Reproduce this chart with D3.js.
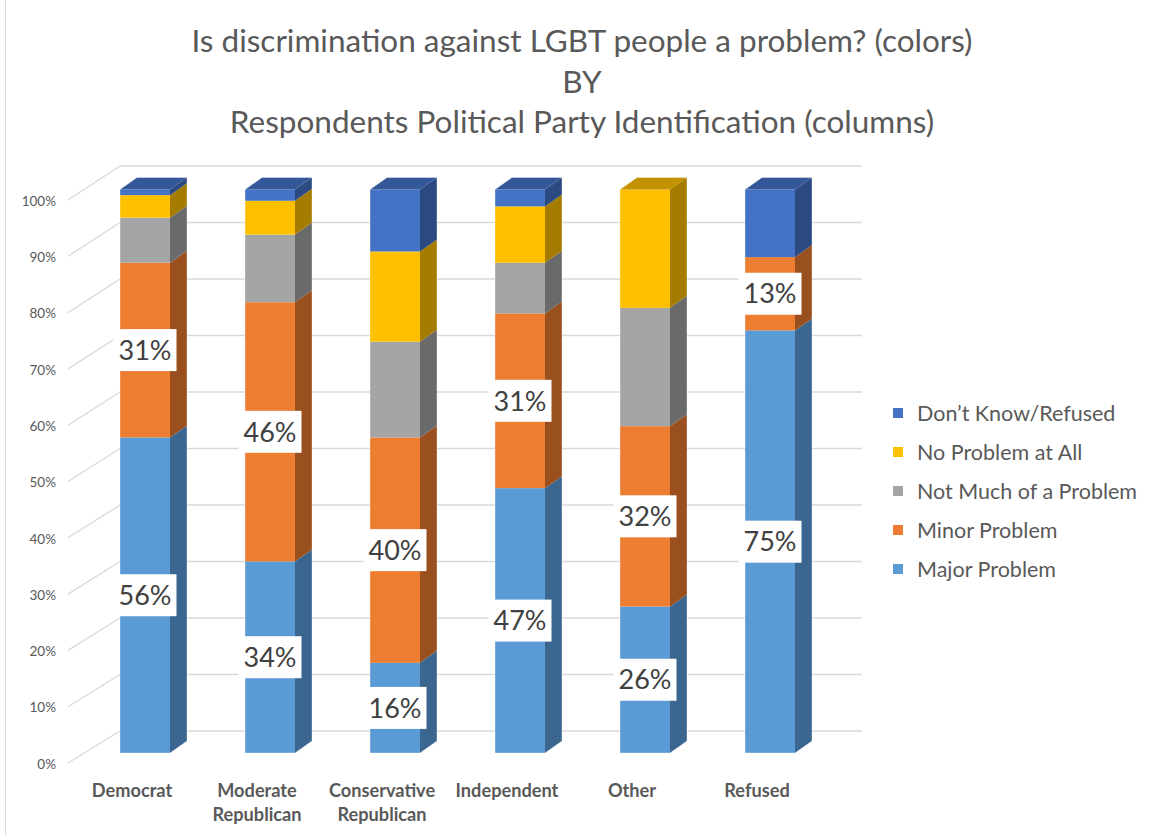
<!DOCTYPE html>
<html>
<head>
<meta charset="utf-8">
<script src="https://cdn.jsdelivr.net/npm/d3@7"></script>
<style>
  html, body { margin: 0; padding: 0; background: #fff; }
  svg { display: block; }
  text { font-family: Lato, "Open Sans", "Liberation Sans", sans-serif; }
</style>
</head>
<body>
<svg id="chart" width="1151" height="835"></svg>
<script>
// ---- data ----
const titleLines = ["Is discrimination against LGBT people a problem? (colors)", "BY", "Respondents Political Party Identification (columns)"];
const categories = ["Democrat", "Moderate Republican", "Conservative Republican", "Independent", "Other", "Refused"];
const seriesNames = ["Major Problem", "Minor Problem", "Not Much of a Problem", "No Problem at All", "Don\u2019t Know/Refused"];
const majorProblem = [56, 34, 16, 47, 26, 75];
const minorProblem = [31, 46, 40, 31, 32, 13];
const notMuchProblem = [8, 12, 17, 9, 21, 0];
const noProblemAtAll = [4, 6, 16, 10, 21, 0];
const dontKnowRefused = [1, 2, 11, 3, 0, 12];
const labeledSeries = ["Major Problem", "Minor Problem"];
const yTicks = [0, 10, 20, 30, 40, 50, 60, 70, 80, 90, 100];

// ---- styles ----
const frontColors = ["#5B9BD5", "#ED7D31", "#A5A5A5", "#FFC000", "#4472C4"];
const sideColors  = ["#3A6690", "#9A4F1E", "#6A6A6A", "#A57C00", "#2C4A82"];
const topColors   = ["#4A80B4", "#C2652A", "#888888", "#C39200", "#335799"];

const svg = d3.select("#chart");
const seriesValues = [majorProblem, minorProblem, notMuchProblem, noProblemAtAll, dontKnowRefused];
const table = categories.map((c, i) => {
  const o = { category: c };
  seriesNames.forEach((s, k) => o[s] = seriesValues[k][i]);
  return o;
});
const stacked = d3.stack().keys(seriesNames)(table);

const x = d3.scalePoint().domain(categories).range([145, 770]);
const yFront = d3.scaleLinear().domain([0, 100]).range([753, 189.5]);
const yWall = d3.scaleLinear().domain([0, 100]).range([731, 166]);
const yLabel = d3.scaleLinear().domain([0, 100]).range([764, 201]);
const barW = 50, dx = 17, dy = -12;
const wallLeft = 120, wallRight = 862, labelEdge = 68;

// title
svg.append("g").selectAll("text").data(titleLines).join("text")
  .attr("x", 582).attr("y", (d, i) => 52 + i * 40.5)
  .attr("text-anchor", "middle")
  .attr("font-size", 31.5).attr("fill", "#595959")
  .text(d => d);

// gridlines on back wall + floor diagonals
const grid = svg.append("g");
grid.selectAll("line.h").data(yTicks).join("line").attr("class", "h")
  .attr("x1", wallLeft).attr("x2", wallRight)
  .attr("y1", d => yWall(d)).attr("y2", d => yWall(d))
  .attr("stroke", "#D9D9D9").attr("stroke-width", 1.3);
grid.selectAll("line.d").data(yTicks).join("line").attr("class", "d")
  .attr("x1", labelEdge).attr("x2", wallLeft)
  .attr("y1", d => yLabel(d) - 1).attr("y2", d => yWall(d))
  .attr("stroke", "#D9D9D9").attr("stroke-width", 1.3);

// y tick labels
svg.append("g").selectAll("text").data(yTicks).join("text")
  .attr("x", 56).attr("y", d => yLabel(d))
  .attr("dy", "0.35em").attr("text-anchor", "end")
  .attr("font-size", 13.5).attr("fill", "#595959")
  .text(d => d + "%");

// bars
const bars = svg.append("g");
categories.forEach((c, i) => {
  const cx = x(c);
  const xl = cx - barW / 2, xr = cx + barW / 2;
  let topIdx = -1;
  stacked.forEach((s, k) => { if (s[i][1] - s[i][0] > 0) topIdx = k; });
  stacked.forEach((s, k) => {
    const v0 = s[i][0], v1 = s[i][1];
    if (v1 - v0 <= 0) return;
    const y0 = yFront(v0), y1 = yFront(v1);
    bars.append("rect").attr("x", xl).attr("y", y1)
      .attr("width", barW).attr("height", y0 - y1)
      .attr("fill", frontColors[k]);
    bars.append("path")
      .attr("d", `M${xr},${y0}L${xr + dx},${y0 + dy}L${xr + dx},${y1 + dy}L${xr},${y1}Z`)
      .attr("fill", sideColors[k]);
    if (k === topIdx) {
      bars.append("path")
        .attr("d", `M${xl},${y1}L${xl + dx},${y1 + dy}L${xr + dx},${y1 + dy}L${xr},${y1}Z`)
        .attr("fill", topColors[k]);
    }
  });
  bars.append("path")
    .attr("d", `M${xl},${yFront(0)}L${xl},${yFront(100)}L${xl + dx},${yFront(100) + dy}L${xr + dx},${yFront(100) + dy}L${xr + dx},${yFront(0) + dy}L${xr},${yFront(0)}Z`)
    .attr("fill", "none").attr("stroke", "rgba(255,255,255,0.35)").attr("stroke-width", 1);
});

// data labels
const labels = svg.append("g");
stacked.forEach((s, k) => {
  if (!labeledSeries.includes(s.key)) return;
  categories.forEach((c, i) => {
    const v = s[i][1] - s[i][0];
    const cy = yFront((s[i][0] + s[i][1]) / 2);
    const cx = x(c);
    const g = labels.append("g");
    g.append("rect").attr("x", cx - 31.5).attr("y", cy - 21)
      .attr("width", 63).attr("height", 42).attr("fill", "#fff");
    g.append("text").attr("x", cx).attr("y", cy).attr("dy", "0.36em")
      .attr("text-anchor", "middle").attr("font-size", 27).attr("fill", "#404040")
      .text(v + "%");
  });
});

// category labels
svg.append("g").selectAll("text").data(categories).join("text")
  .attr("x", d => x(d) - 13).attr("y", 797)
  .attr("text-anchor", "middle").attr("font-size", 18.2).attr("font-weight", "bold")
  .attr("fill", "#595959")
  .each(function(d) {
    const parts = d.split(" ");
    d3.select(this).selectAll("tspan").data(parts).join("tspan")
      .attr("x", x(d) - 13).attr("dy", (p, j) => j === 0 ? 0 : 24).text(p => p);
  });

// legend
const legendOrder = seriesNames.slice().reverse();
const lg = svg.append("g").selectAll("g").data(legendOrder).join("g")
  .attr("transform", (d, i) => `translate(893,${413 + i * 39})`);
lg.append("rect").attr("x", 0).attr("y", -5).attr("width", 10).attr("height", 10)
  .attr("fill", d => frontColors[seriesNames.indexOf(d)]);
lg.append("text").attr("x", 24).attr("y", 0).attr("dy", "0.35em")
  .attr("font-size", 21.5).attr("fill", "#595959").text(d => d);

// chart area border (left edge)
svg.append("line").attr("x1", 5.5).attr("x2", 5.5).attr("y1", 0).attr("y2", 835)
  .attr("stroke", "#D9D9D9").attr("stroke-width", 1);
</script>
</body>
</html>
